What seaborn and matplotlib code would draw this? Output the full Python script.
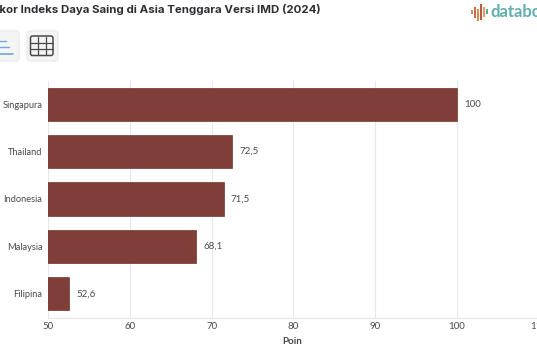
import matplotlib
matplotlib.use("Agg")
import matplotlib.pyplot as plt
from matplotlib.patches import FancyBboxPatch, Rectangle
import pandas as pd
import seaborn as sns

countries = ["Singapura", "Thailand", "Indonesia", "Malaysia", "Filipina"]
scores = [100, 72.5, 71.5, 68.1, 52.6]
score_labels = ["100", "72,5", "71,5", "68,1", "52,6"]
x_ticks = [50, 60, 70, 80, 90, 100, 110]

W, H = 537, 360

sns.set_theme(style="white")
plt.rcParams["font.family"] = ["Lato", "DejaVu Sans"]

data = pd.DataFrame({"Negara": countries, "Poin": scores})

fig = plt.figure(figsize=(W / 100, H / 100), dpi=100, facecolor="white")
ax = fig.add_axes([48 / W, 1 - 317.5 / H, 490.8 / W, 237 / H])

sns.barplot(data=data, x="Poin", y="Negara", color="#7f3f38", saturation=1,
            width=0.7, ax=ax, edgecolor="#74362f", linewidth=0.5, zorder=3)

ax.set_xlim(50, 110)
ax.set_xticks(x_ticks)
ax.grid(axis="x", color="#e8e8ec", linewidth=0.8, zorder=0)
ax.set_axisbelow(True)
sns.despine(ax=ax, top=True, right=True, left=True, bottom=False)
ax.spines["bottom"].set_color("#e6e6ea")
ax.spines["bottom"].set_linewidth(0.8)
ax.tick_params(axis="x", length=0, labelsize=7, labelcolor="#4a4a4a", pad=3)
ax.tick_params(axis="y", length=0, labelsize=6.7, labelcolor="#4a4a4a", pad=4)
ax.set_ylabel("")
ax.set_xlabel("Poin", fontsize=7, fontweight="bold", color="#444444")
ax.xaxis.set_label_coords((292 - 48) / 490.8, -0.082)

for container in ax.containers:
    ax.bar_label(container, labels=score_labels, padding=5, fontsize=7, color="#4a4a4a")

# overlay in pixel coords
ov = fig.add_axes([0, 0, 1, 1], facecolor="none")
ov.set_xlim(0, W)
ov.set_ylim(H, 0)
ov.axis("off")

ov.text(-8, 9.5, "Skor Indeks Daya Saing di Asia Tenggara Versi IMD (2024)", family="Inter",
        fontsize=8.28, fontweight="bold", color="#2f2f33", va="center", ha="left")

# chart / table buttons
ov.add_patch(FancyBboxPatch((-8, 31), 27, 30, boxstyle="round,pad=0,rounding_size=3",
                            fc="#f4f4f5", ec="#ebebed", lw=1))
ov.add_patch(FancyBboxPatch((27, 31), 31, 30, boxstyle="round,pad=0,rounding_size=3",
                            fc="#f4f4f5", ec="#ebebed", lw=1))
ov.plot([0, 6], [41, 41], color="#6fa8d8", lw=1)
ov.plot([0, 9], [47, 47], color="#6fa8d8", lw=1)
ov.plot([0, 13], [53.5, 53.5], color="#6fa8d8", lw=1.2)
ov.add_patch(FancyBboxPatch((30.5, 36), 22.5, 19.5, boxstyle="round,pad=0,rounding_size=2",
                            fc="none", ec="#4a4a4a", lw=1.1))
for gx in (38, 45.5):
    ov.plot([gx, gx], [36.5, 55], color="#4a4a4a", lw=0.9)
for gy in (42.5, 49):
    ov.plot([31, 52.5], [gy, gy], color="#4a4a4a", lw=0.9)

# databoks logo, cut by the edge of the image
logo_bars = [(471.5, 10, 4, "#d98a5a"), (474.5, 7, 11, "#c9675a"), (477.5, 9, 12, "#e08a45"),
             (480.5, 4, 16, "#b9574e"), (483.5, 7, 10, "#e3a04f"), (486.5, 9, 5, "#5aa8a5")]
for lx, y0, h, c in logo_bars:
    ov.add_patch(Rectangle((lx - 1, y0), 2, h, fc=c, ec="none"))
ov.text(490.5, 12, "databoks", family="Lato", fontsize=12, fontweight="bold",
        color="#62aeb0", va="center", ha="left")

fig.savefig("out.png", dpi=100)
